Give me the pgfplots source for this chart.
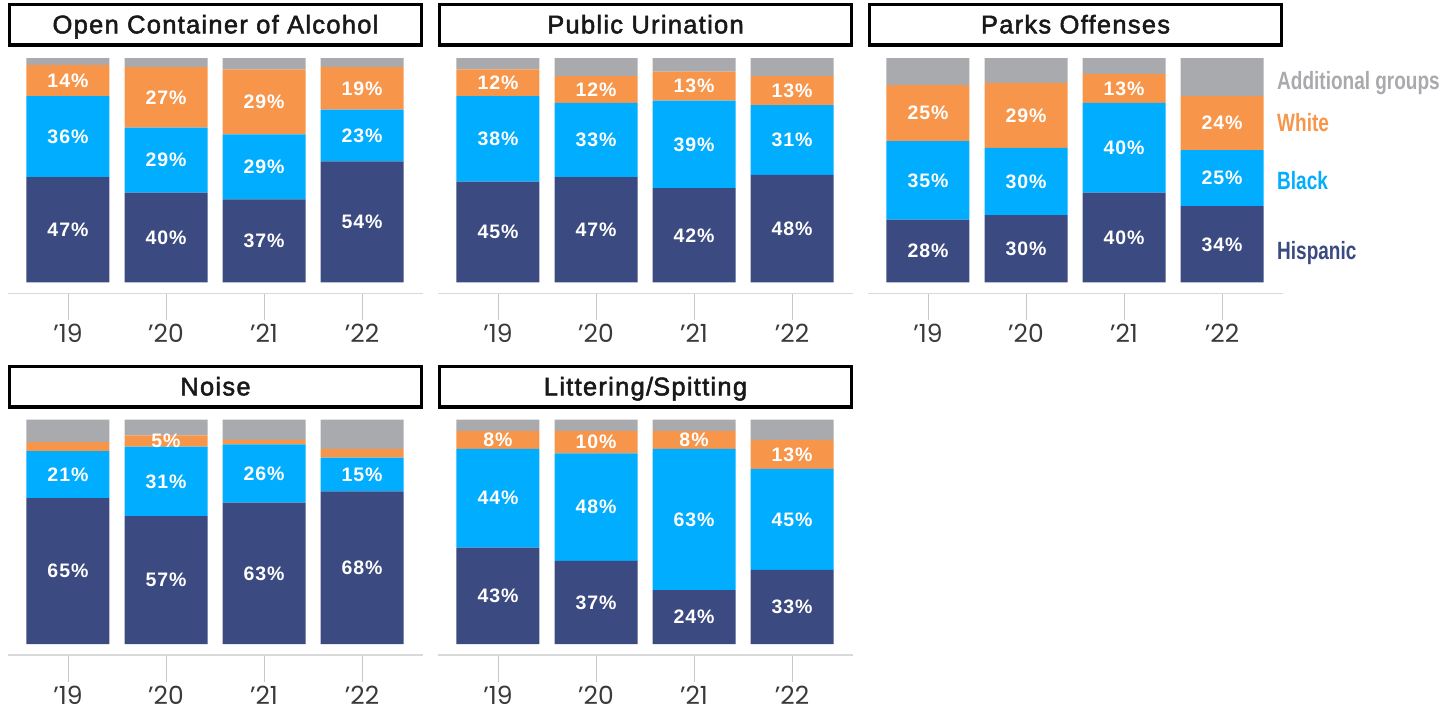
\documentclass[border=0pt]{standalone}
\usepackage{fontspec}
\setmainfont{Liberation Sans}
\newfontfamily\titlefont[LetterSpace=5,FakeBold=2]{Liberation Sans}
\newfontfamily\valfont[LetterSpace=5]{Liberation Sans}
\newfontfamily\tickfont{Poppins}
\newfontfamily\legfont[FakeStretch=0.76]{Liberation Sans}
\usepackage{pgfplots}
\usepackage{pgfplotstable}
\pgfplotsset{compat=1.18}

\definecolor{cnavy}{HTML}{3B4A80}
\definecolor{cblue}{HTML}{00ADFE}
\definecolor{corange}{HTML}{F7964A}
\definecolor{cgray}{HTML}{A9AAAE}
\definecolor{axgray}{HTML}{D9D9D9}
\definecolor{tkgray}{HTML}{C8C8C8}
\definecolor{lbgray}{HTML}{3A3A3A}

% columns: year index, Hispanic, Black, White, Additional groups
\pgfplotstableread{
x H B W A
0 47 36 14 3
1 40 29 27 4
2 37 29 29 5
3 54 23 19 4
}\oca
\pgfplotstableread{
x H B W A
0 45 38 12 5
1 47 33 12 8
2 42 39 13 6
3 48 31 13 8
}\pub
\pgfplotstableread{
x H B W A
0 28 35 25 12
1 30 30 29 11
2 40 40 13 7
3 34 25 24 17
}\parks
\pgfplotstableread{
x H B W A
0 65 21 4 10
1 57 31 5 7
2 63 26 2 9
3 68 15 4 13
}\noise
\pgfplotstableread{
x H B W A
0 43 44 8 5
1 37 48 10 5
2 24 63 8 5
3 33 45 13 9
}\litter

\pgfplotsset{
  panel/.style={
    anchor=south west,
    scale only axis, width=415pt, height=235.4pt,
    xmin=-0.612, xmax=3.622, ymin=-4.9, ymax=100,
    ybar stacked, bar width=83pt,
    axis x line*=bottom, axis y line=none,
    x axis line style={draw=axgray, line width=1.5pt, -},
    xtick={0,1,2,3}, xticklabels={’19,’20,’21,’22},
    major tick length=27pt, tick align=outside,
    xtick style={draw=tkgray, line width=0.9pt},
    xticklabel style={font=\tickfont\fontsize{25}{25}\selectfont, text=lbgray, anchor=center, yshift=-13pt},
    clip=false,
  },
  lbl/.style={
    visualization depends on={\thisrow{#1} \as \segh},
    nodes near coords={\ifdim\segh pt<4.5pt \else\pgfmathprintnumber[fixed,precision=0,assume math mode=true]{\segh}\%\fi},
    every node near coord/.append style={anchor=center,
      font=\valfont\bfseries\fontsize{19.5}{19.5}\selectfont, text=white, inner sep=0pt},
  },
}

\newcommand\panelplots[1]{%
  \addplot[fill=cnavy, draw=none, lbl=H] table[x=x,y=H]{#1};
  \addplot[fill=cblue, draw=none, lbl=B] table[x=x,y=B]{#1};
  \addplot[fill=corange, draw=none, lbl=W] table[x=x,y=W]{#1};
  \addplot[fill=cgray, draw=none] table[x=x,y=A]{#1};
}

\begin{document}
\begin{tikzpicture}[x=1pt,y=1pt]
\path[use as bounding box] (0,0) rectangle (1445,711);

\begin{axis}[panel, at={(8pt,417.5pt)}]
\panelplots{\oca}
\end{axis}
\begin{axis}[panel, at={(438pt,417.5pt)}]
\panelplots{\pub}
\end{axis}
\begin{axis}[panel, at={(868pt,417.5pt)}]
\panelplots{\parks}
\end{axis}
\begin{axis}[panel, at={(8pt,56pt)}]
\panelplots{\noise}
\end{axis}
\begin{axis}[panel, at={(438pt,56pt)}]
\panelplots{\litter}
\end{axis}

% title boxes
\foreach \xl/\yt/\txt in {9.65/706.65/Open Container of Alcohol, 439.65/706.65/Public Urination, 869.65/706.65/Parks Offenses, 9.65/344.65/Noise, 439.65/344.65/Littering\slash Spitting}{
  \draw[line width=3.3pt, black] (\xl,\yt) rectangle (\xl+411.7,\yt-40.65);
  \node[anchor=base, inner sep=0pt, font=\titlefont\fontsize{25.5}{25.5}\selectfont, text=black!90] at (\xl+205.85,\yt-29) {\txt};
}

% legend labels
\begin{scope}[every node/.style={anchor=base west, inner sep=0pt, font=\legfont\bfseries\fontsize{25}{25}\selectfont}]
\node[text=cgray] at (1277,621.7) {Additional groups};
\node[text=corange] at (1277,579.3) {White};
\node[text=cblue] at (1277,521) {Black};
\node[text=cnavy] at (1277,451) {Hispanic};
\end{scope}
\end{tikzpicture}
\end{document}
